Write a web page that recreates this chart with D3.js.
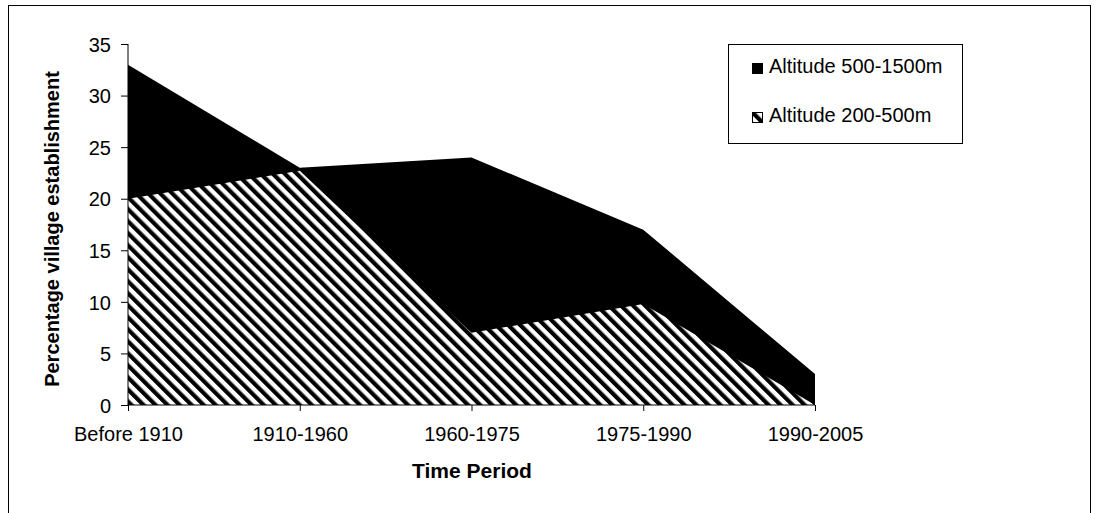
<!DOCTYPE html>
<html>
<head>
<meta charset="utf-8">
<script src="https://cdn.jsdelivr.net/npm/d3@7"></script>
<style>
  body { margin: 0; background: #fff; }
  svg { display: block; }
</style>
</head>
<body>
<script>
const periods = ["Before 1910", "1910-1960", "1960-1975", "1975-1990", "1990-2005"];
const high = [33, 23, 24, 17, 3];      // Altitude 500-1500m
const low = [20, 22.7, 7, 9.8, 0];     // Altitude 200-500m
const yTicks = [0, 5, 10, 15, 20, 25, 30, 35];

const width = 1098, height = 513;
const font = "Liberation Sans, Arial, sans-serif";

const svg = d3.select("body").append("svg")
    .attr("width", width)
    .attr("height", height)
    .attr("font-family", font);

const defs = svg.append("defs");
const pat = defs.append("pattern")
    .attr("id", "hatch")
    .attr("patternUnits", "userSpaceOnUse")
    .attr("width", 8.5)
    .attr("height", 8.5)
    .attr("patternTransform", "rotate(-45)");
pat.append("rect").attr("width", 8.5).attr("height", 8.5).attr("fill", "#fff");
pat.append("rect").attr("width", 4.2).attr("height", 8.5).attr("fill", "#000");

// outer frame
svg.append("rect")
    .attr("x", 8.5).attr("y", 5.5)
    .attr("width", 1082).attr("height", 520)
    .attr("fill", "none").attr("stroke", "#000");

const x = d3.scalePoint().domain(periods).range([128, 815]);
const y = d3.scaleLinear().domain([0, 35]).range([405, 44]);

const area = d3.area()
    .x((d, i) => x(periods[i]))
    .y0(y(0))
    .y1(d => y(d));

svg.append("path")
    .datum(high)
    .attr("fill", "#000")
    .attr("d", area);

svg.append("path")
    .datum(low)
    .attr("fill", "url(#hatch)")
    .attr("d", area);

const yAxis = svg.append("g")
    .attr("transform", `translate(${x.range()[0]},0)`)
    .call(d3.axisLeft(y).tickValues(yTicks).tickSize(7).tickPadding(10));
const xAxis = svg.append("g")
    .attr("transform", `translate(0,${y(0)})`)
    .call(d3.axisBottom(x).tickSize(6).tickPadding(16));

[xAxis, yAxis].forEach(g => {
  g.selectAll("path, line").attr("stroke", "#000");
  g.selectAll("text").attr("font-size", 20).attr("fill", "#000").attr("font-family", font);
});
yAxis.selectAll("text").attr("dy", "0.36em");
xAxis.select(".domain").attr("d", `M${x.range()[0]},0H${x.range()[1]}`);
yAxis.select(".domain").attr("d", `M0,${y(35)}V${y(0)}`);

svg.append("text")
    .attr("x", 472).attr("y", 478)
    .attr("text-anchor", "middle")
    .attr("font-size", 21).attr("font-weight", "bold")
    .text("Time Period");

svg.append("text")
    .attr("transform", "translate(59,229) rotate(-90)")
    .attr("text-anchor", "middle")
    .attr("font-size", 20).attr("font-weight", "bold")
    .text("Percentage village establishment");

// legend
const legend = svg.append("g");
legend.append("rect")
    .attr("x", 728.5).attr("y", 44.5)
    .attr("width", 234).attr("height", 99)
    .attr("fill", "#fff").attr("stroke", "#000");

const items = [
  { label: "Altitude 500-1500m", fill: "#000", y: 73 },
  { label: "Altitude 200-500m", fill: "url(#hatch)", y: 122 }
];
items.forEach(d => {
  legend.append("rect")
      .attr("x", 752.5).attr("y", d.y - 9.5)
      .attr("width", 10).attr("height", 10)
      .attr("fill", d.fill).attr("stroke", "#000");
  legend.append("text")
      .attr("x", 769).attr("y", d.y)
      .attr("font-size", 20)
      .text(d.label);
});
</script>
</body>
</html>
